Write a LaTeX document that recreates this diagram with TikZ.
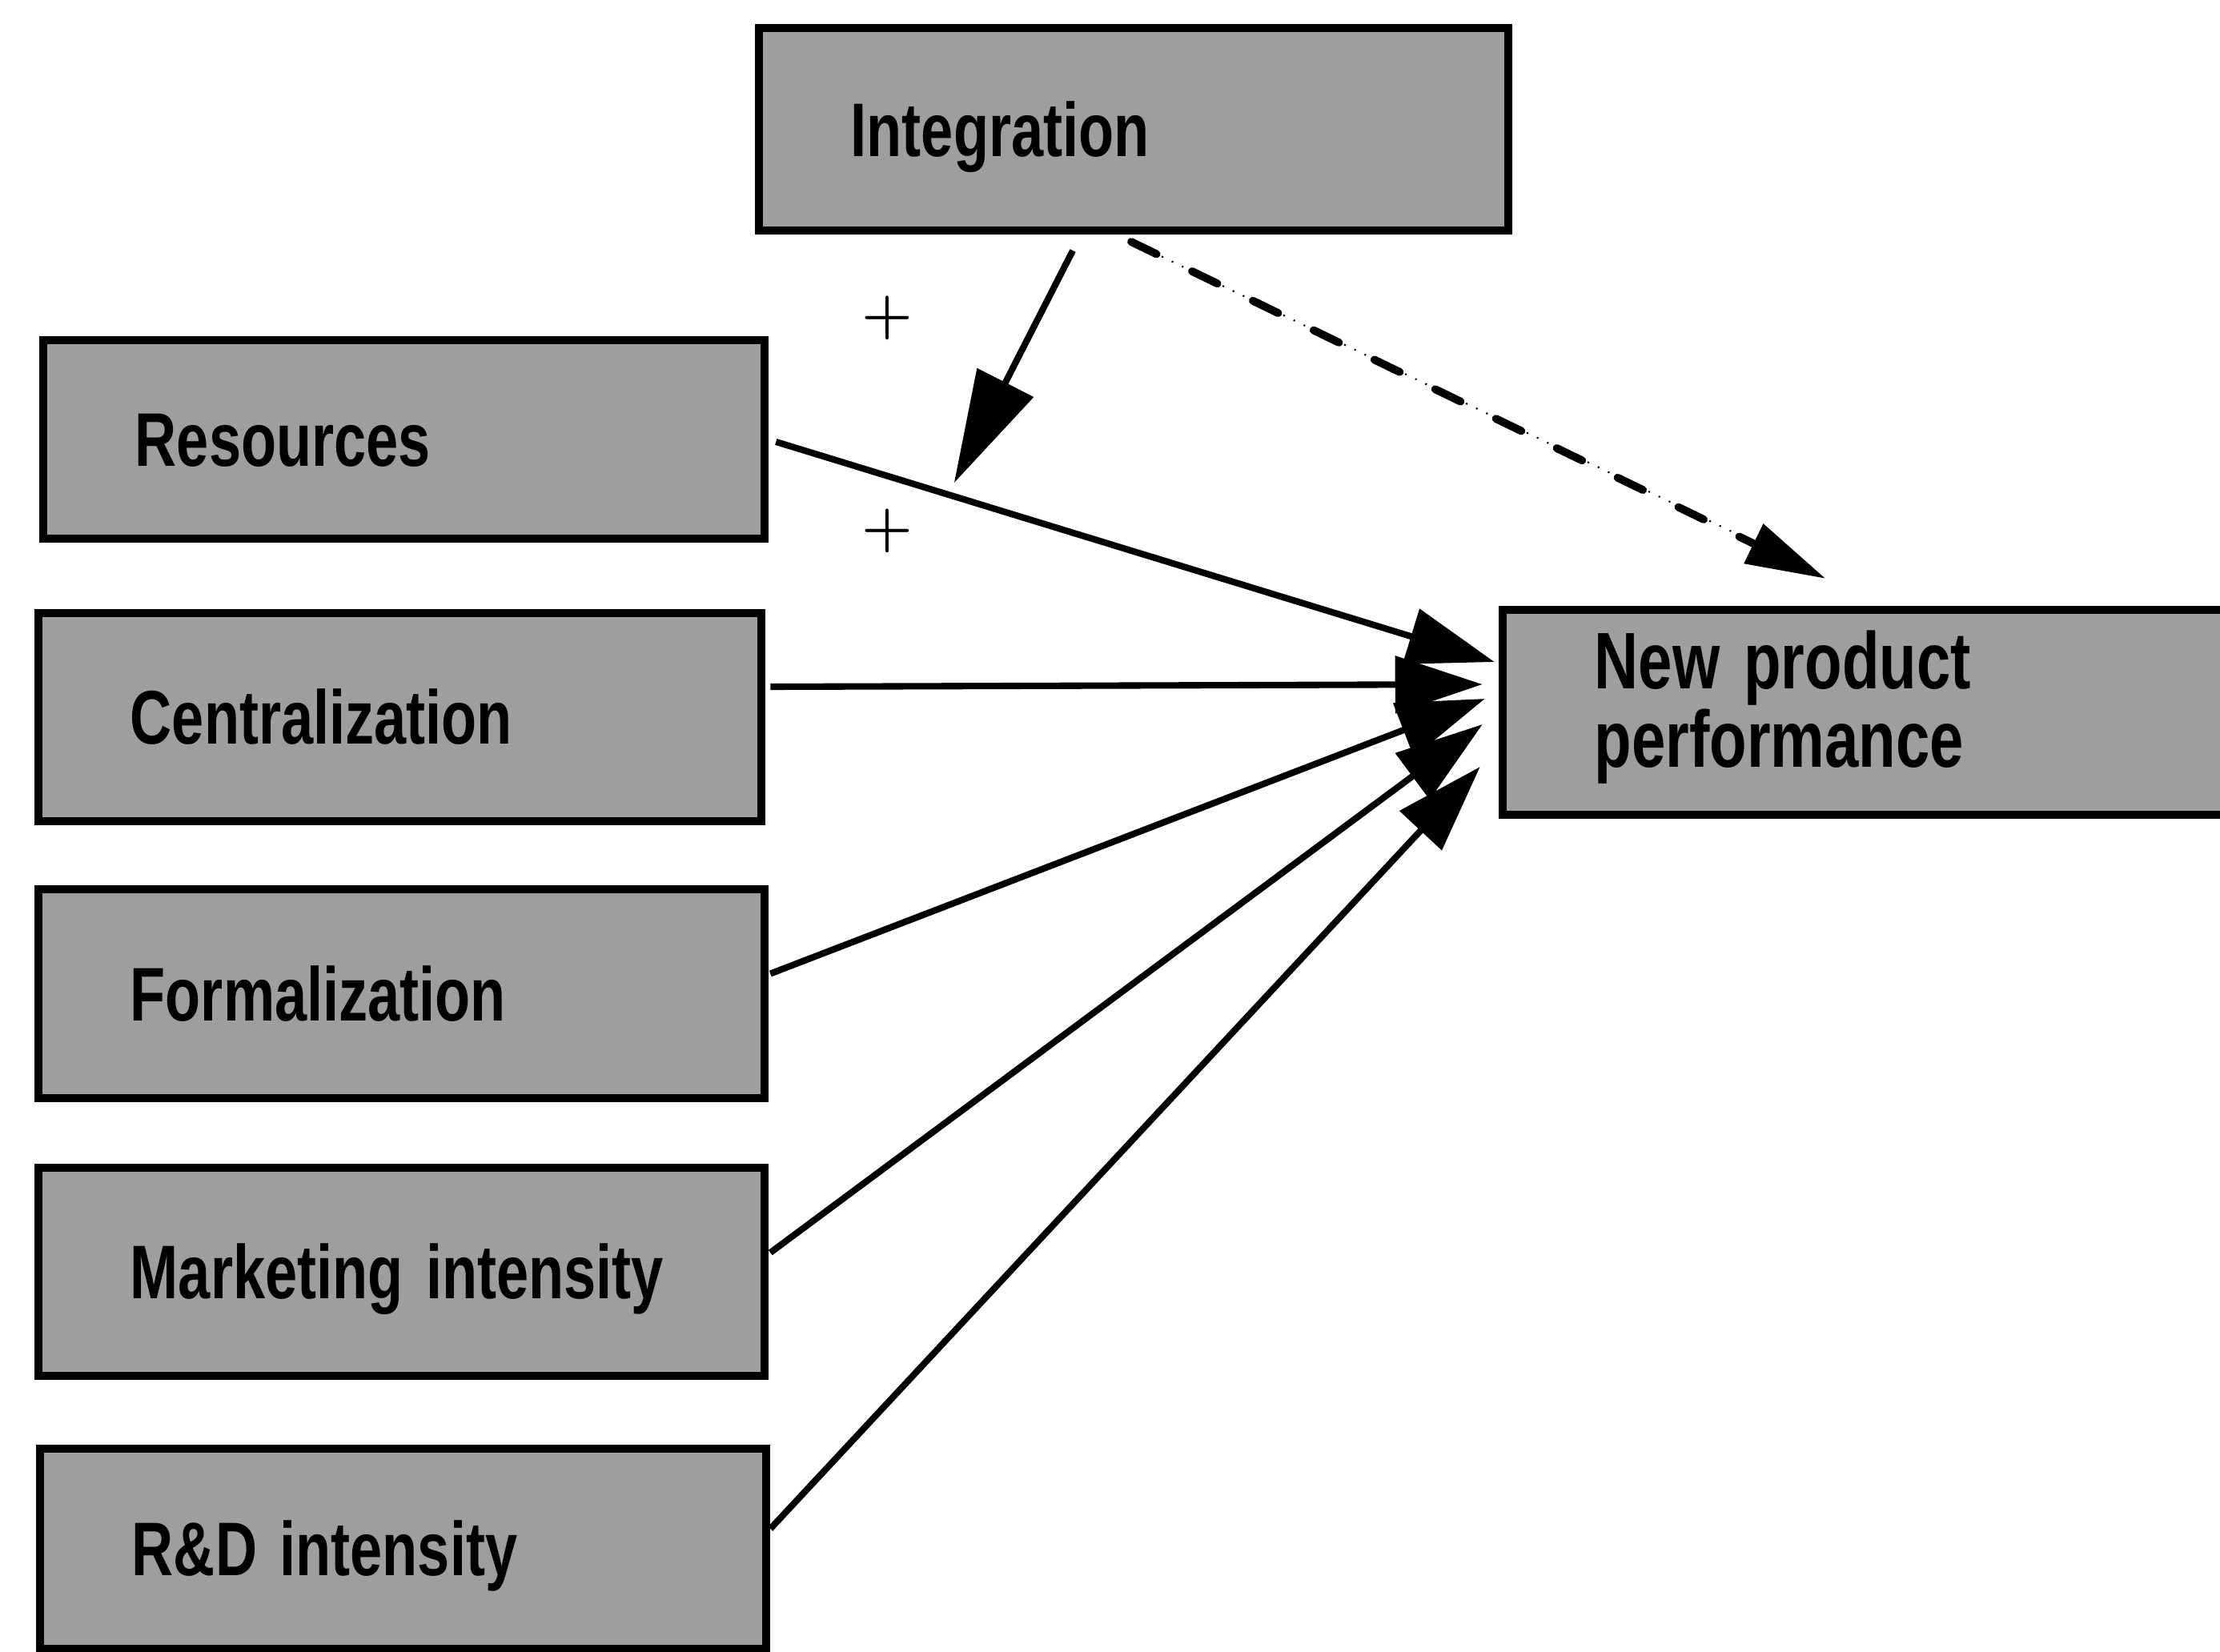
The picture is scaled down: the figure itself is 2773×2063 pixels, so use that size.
\documentclass[tikz,border=0pt]{standalone}
\usepackage{fontspec}
\newfontfamily\labelfont{Liberation Sans}[FakeStretch=0.76]
\usetikzlibrary{arrows.meta,calc}
\definecolor{boxgray}{gray}{0.62}
% condensed bold label face
\newcommand\boxlabelfont{\labelfont\bfseries\fontsize{27}{27}\selectfont}
\newcommand\outcomelabelfont{\labelfont\bfseries\fontsize{28.5}{28}\selectfont}
\newcommand\labelgaps{\spaceskip=0.3em plus 0.05em\relax}

\begin{document}
\begin{tikzpicture}[x=0.01cm,y=-0.01cm,
  factor/.style={draw, line width=2.85pt, fill=boxgray, rectangle,
    inner xsep=1.15cm, inner ysep=0pt, align=left,
    text height=19.3pt, text depth=0pt, font=\boxlabelfont,
    execute at begin node=\labelgaps},
  effect/.style={line width=2.3pt, -{Triangle[length=31pt,width=20pt]}},
  moderator/.style={line width=2.3pt, -{Triangle[length=40pt,width=22pt]}},
  sign/.style={font=\fontsize{22}{22}\selectfont\boldmath, inner sep=0pt},
]
\useasboundingbox (0,0) rectangle (2773,2063);
\clip (0,0) rectangle (2773,2063);

% constructs
\node[factor, minimum width=9.36cm, minimum height=2.53cm, text width=7.06cm] (int) at (1416,161.5) {Integration};
\node[factor, minimum width=9.01cm, minimum height=2.48cm, text width=6.71cm] (res) at (504.5,549) {Resources};
\node[factor, minimum width=9.03cm, minimum height=2.60cm, text width=6.73cm] (cen) at (499.5,896) {Centralization};
\node[factor, minimum width=9.07cm, minimum height=2.61cm, text width=6.77cm] (for) at (501.5,1241.5) {Formalization};
\node[factor, minimum width=9.07cm, minimum height=2.60cm, text width=6.77cm] (mkt) at (501.5,1589) {Marketing intensity};
\node[factor, minimum width=9.07cm, minimum height=2.50cm, text width=6.77cm] (rd) at (503.5,1935) {R\&D intensity};
\node[factor, minimum width=9.23cm, minimum height=2.56cm, text width=6.93cm,
      text height=20.5pt, text depth=37.5pt, font=\outcomelabelfont] (npp) at (2338.5,890) {New product\\performance};

% direct effects on new product performance
\draw[effect] ($(res.east)+(9,3)$) -- node[coordinate, pos=0.248] (mod) {} ($(npp.west)+(-5,-63)$);
\draw[effect] ($(cen.east)+(6,-38)$) -- ($(npp.west)+(-20,-35)$);
\draw[effect] ($(for.east)+(2,-25)$) -- ($(npp.west)+(-17,-17)$);
\draw[effect] ($(mkt.east)+(2,-24)$) -- ($(npp.west)+(-20,15)$);
\draw[effect] ($(rd.east)+(0,-25)$) -- ($(npp.west)+(-23,68)$);

% moderating effect of integration
\draw[moderator] ($(int.south)+(-76,20)$) -- ($(mod)+(0,-17)$);

% dashed path from integration
\draw[line width=0.6pt, dash pattern=on 0.6pt off 3.4pt]
  ($(int.south)+(-3,9)$) -- ($(npp.north)+(-120,-66)$);
\draw[line width=2.8pt, line cap=round, dash pattern=on 10pt off 14pt,
      -{Triangle[length=28.5pt,width=15pt]}]
  ($(int.south)+(-3,9)$) -- ($(npp.north)+(-58,-34)$);

% signs
\node[sign] (plusA) at (1108,397) {$+$};
\node[sign] (plusB) at (1108,663) {$+$};
\end{tikzpicture}
\end{document}
